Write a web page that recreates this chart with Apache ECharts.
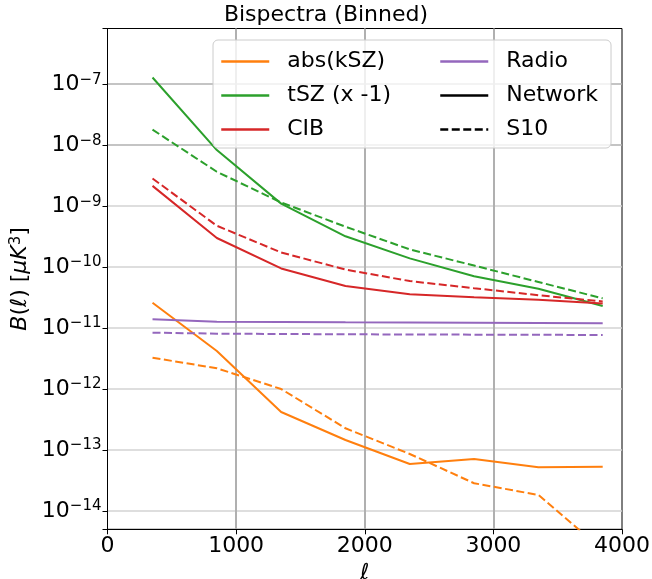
<!DOCTYPE html>
<html>
<head>
<meta charset="utf-8">
<script src="https://cdn.jsdelivr.net/npm/echarts@6/dist/echarts.min.js"></script>
<style>
  html, body { margin: 0; padding: 0; background: #fff; }
  #chart { width: 652px; height: 579px; }
</style>
</head>
<body>
<div id="chart"></div>
<script>
// bin centres in multipole
const ell = [350, 850, 1350, 1850, 2350, 2850, 3350, 3850];

// network bispectra
const kszNet   = [2.6e-11, 4.2e-12, 4.2e-13, 1.46e-13, 5.9e-14, 7.1e-14, 5.2e-14, 5.3e-14];
const tszNet   = [1.29e-7, 8.3e-9, 1.1e-9, 3.2e-10, 1.39e-10, 7.1e-11, 4.4e-11, 2.3e-11];
const cibNet   = [2.15e-9, 3.0e-10, 9.5e-11, 4.9e-11, 3.6e-11, 3.2e-11, 2.9e-11, 2.54e-11];
const radioNet = [1.39e-11, 1.27e-11, 1.26e-11, 1.24e-11, 1.23e-11, 1.22e-11, 1.21e-11, 1.2e-11];

// S10 bispectra
const kszS10   = [3.26e-12, 2.19e-12, 1.0e-12, 2.27e-13, 8.6e-14, 2.85e-14, 1.83e-14, 2.3e-15];
const tszS10   = [1.8e-8, 3.66e-9, 1.15e-9, 4.6e-10, 1.95e-10, 1.06e-10, 5.7e-11, 3.07e-11];
const cibS10   = [2.84e-9, 4.77e-10, 1.74e-10, 9.1e-11, 5.9e-11, 4.5e-11, 3.46e-11, 2.73e-11];
const radioS10 = [8.4e-12, 8.1e-12, 8.0e-12, 7.9e-12, 7.85e-12, 7.8e-12, 7.75e-12, 7.7e-12];

const xTicks = [0, 1000, 2000, 3000, 4000];
const legendLeft = ['abs(kSZ)', 'tSZ (x -1)', 'CIB'];
const legendRight = ['Radio', 'Network', 'S10'];

const FONT = 'DejaVu Sans';
const colors = { ksz: '#ff7f0e', tsz: '#2ca02c', cib: '#d62728', radio: '#9467bd' };

const pairs = (ys) => ell.map((x, i) => [x, ys[i]]);

const line = (name, ys, color, dashed) => ({
  name: name,
  type: 'line',
  data: pairs(ys),
  symbol: 'none',
  clip: true,
  lineStyle: { color: color, width: 2, type: dashed ? [8, 3.5] : 'solid' },
  itemStyle: { color: color }
});

const series = [
  line('abs(kSZ)', kszNet, colors.ksz, false),
  line('abs(kSZ)', kszS10, colors.ksz, true),
  line('tSZ (x -1)', tszNet, colors.tsz, false),
  line('tSZ (x -1)', tszS10, colors.tsz, true),
  line('CIB', cibNet, colors.cib, false),
  line('CIB', cibS10, colors.cib, true),
  line('Radio', radioNet, colors.radio, false),
  line('Radio', radioS10, colors.radio, true),
  // legend-only entries for the line styles
  { name: 'Network', type: 'line', data: [], symbol: 'none', lineStyle: { color: '#000', width: 2 }, itemStyle: { color: '#000' } },
  { name: 'S10', type: 'line', data: [], symbol: 'none', lineStyle: { color: '#000', width: 2, type: [8, 3.5] }, itemStyle: { color: '#000' } }
];

const legendText = { fontFamily: FONT, fontSize: 22, color: '#000', lineHeight: 22, padding: [0, 0, 0, 13] };

const chart = echarts.init(document.getElementById('chart'), null, { renderer: 'canvas' });

chart.setOption({
  animation: false,
  backgroundColor: '#fff',
  title: {
    text: 'Bispectra (Binned)',
    left: 'center',
    top: 0,
    padding: [4, 0, 0, 77.5],
    textStyle: { fontFamily: FONT, fontSize: 22, fontWeight: 'normal', color: '#000' }
  },
  legend: [
    {
      data: legendLeft,
      orient: 'vertical',
      left: 213,
      top: 40,
      padding: [10.5, 220, 7.5, 7],
      itemWidth: 48,
      itemHeight: 22,
      itemGap: 12,
      textStyle: legendText,
      backgroundColor: 'rgba(255,255,255,0.8)',
      borderColor: '#cccccc',
      borderWidth: 1,
      borderRadius: 5,
      selectedMode: false,
      itemStyle: { opacity: 0 },
      lineStyle: { width: 2.5 }
    },
    {
      data: legendRight,
      orient: 'vertical',
      left: 439,
      top: 40,
      padding: [10.5, 0, 7.5, 0],
      itemWidth: 48,
      itemHeight: 22,
      itemGap: 12,
      textStyle: legendText,
      selectedMode: false,
      itemStyle: { opacity: 0 },
      lineStyle: { width: 2.5 }
    }
  ],
  grid: {
    left: 107.5,
    right: 30,
    top: 28.5,
    bottom: 49.7,
    outerBoundsMode: 'none',
    containLabel: false,
    show: true,
    borderColor: '#000',
    borderWidth: 1,
    backgroundColor: 'transparent'
  },
  xAxis: {
    type: 'value',
    min: xTicks[0],
    max: xTicks[xTicks.length - 1],
    interval: 1000,
    name: 'ℓ',
    nameLocation: 'middle',
    nameGap: 24,
    nameTextStyle: { fontFamily: FONT, fontSize: 22, fontStyle: 'italic', color: '#000' },
    axisLine: { show: true, lineStyle: { color: '#000', width: 1 } },
    axisTick: { show: true, inside: false, length: 5, lineStyle: { color: '#000' } },
    axisLabel: {
      fontFamily: FONT, fontSize: 22, color: '#000', margin: 6,
      formatter: (v) => String(v)
    },
    splitLine: { show: true, showMinLine: false, showMaxLine: false, lineStyle: { color: '#b0b0b0', width: 2 } }
  },
  yAxis: {
    type: 'log',
    logBase: 10,
    min: 5.0e-15,
    max: 8.2e-7,
    name: '{i|B}(ℓ) [{i|μK}{sup|3}]',
    nameLocation: 'middle',
    nameGap: 73,
    nameRotate: 90,
    nameTextStyle: {
      fontFamily: FONT, fontSize: 22, color: '#000',
      rich: {
        i: { fontFamily: FONT, fontSize: 22, fontStyle: 'italic', color: '#000' },
        sup: { fontFamily: FONT, fontSize: 15, color: '#000', verticalAlign: 'top', lineHeight: 15 }
      }
    },
    axisLine: { show: true, lineStyle: { color: '#000', width: 1 } },
    axisTick: { show: true, inside: false, length: 5, lineStyle: { color: '#000' } },
    axisLabel: {
      margin: 6,
      formatter: function (v) {
        const lg = Math.log10(v);
        const e = Math.round(lg);
        if (Math.abs(lg - e) > 1e-6) return '';
        return '{b|10}{s|\u2212' + Math.abs(e) + '}';
      },
      rich: {
        b: { fontFamily: FONT, fontSize: 22, color: '#000', lineHeight: 24, verticalAlign: 'middle' },
        s: { fontFamily: FONT, fontSize: 15, color: '#000', lineHeight: 15, verticalAlign: 'top' }
      }
    },
    splitLine: {
      show: true,
      showMinLine: false,
      showMaxLine: false,
      lineStyle: {
        color: ['#d3d3d3', '#d3d3d3', '#d3d3d3', '#d3d3d3', '#d3d3d3', '#d3d3d3', '#b0b0b0', '#b0b0b0'],
        width: 1.5
      }
    }
  },
  series: series
});

window.addEventListener('resize', () => chart.resize());
</script>
</body>
</html>
